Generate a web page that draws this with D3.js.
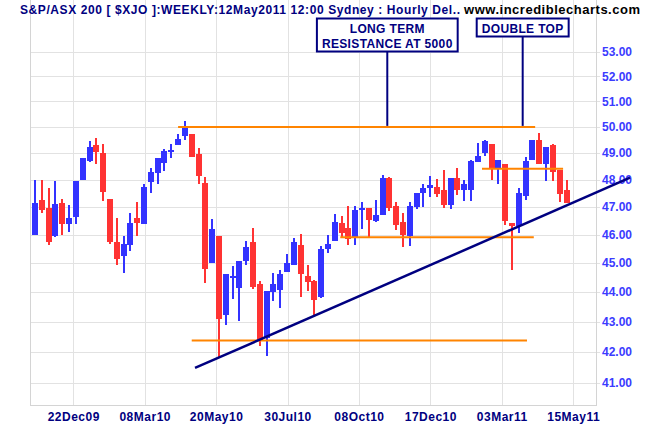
<!DOCTYPE html>
<html>
<head>
<meta charset="utf-8">
<script src="https://cdn.jsdelivr.net/npm/d3@7"></script>
<style>
body { margin: 0; background: #fff; }
svg { display: block; }
text { font-family: "Liberation Sans", Arial, sans-serif; }
</style>
</head>
<body>
<div id="chart"></div>
<script>
// weekly S&P/ASX 200 candles, in index points / 100
var opens  = [46.00,47.23,46.94,45.94,47.12,46.36,46.63,48.00,48.69,49.29,49.00,47.30,45.75,45.23,45.62,46.61,46.37,47.90,48.23,48.63,
              49.05,49.30,49.63,49.73,48.96,47.89,44.98,45.93,43.22,44.47,44.13,45.05,45.73,44.26,42.46,44.00,44.08,44.67,44.94,45.64,
              44.53,44.36,43.81,45.47,45.76,46.40,46.25,45.91,46.87,46.94,46.47,46.70,48.05,47.01,46.43,45.96,46.98,47.52,47.67,47.73,
              47.62,47.06,48.07,47.61,47.61,48.67,49.00,49.33,48.44,48.58,46.40,46.29,47.38,48.73,49.51,48.58,49.29,48.35,47.60];
var highs  = [48.00,48.00,47.67,47.96,47.27,47.05,47.96,48.81,49.44,49.59,49.33,47.30,46.58,45.96,46.76,47.17,47.82,48.42,48.81,49.15,
              49.33,49.73,50.24,49.73,49.20,48.08,46.55,45.93,44.63,44.90,45.08,45.76,46.24,44.36,44.02,44.66,44.74,45.32,45.86,46.01,
              44.93,44.40,45.60,46.00,46.72,46.65,47.01,47.01,47.19,46.94,47.26,48.17,48.10,47.17,46.76,47.19,47.52,47.85,48.13,48.01,
              48.35,48.07,48.42,48.00,48.73,49.37,49.48,49.33,48.73,48.58,46.40,47.67,48.85,49.48,49.77,49.22,49.33,48.35,48.00];
var lows   = [45.98,46.76,45.64,45.92,45.98,46.08,46.36,48.00,48.65,48.58,47.21,45.68,44.91,44.66,45.40,45.94,46.37,47.49,47.85,48.31,
              48.81,49.30,49.49,48.83,47.83,44.30,44.98,41.81,42.89,43.75,43.02,44.91,44.11,42.19,41.86,43.70,43.45,44.67,44.94,43.83,
              44.03,43.18,43.80,45.33,45.76,45.87,45.62,45.62,46.18,45.87,46.43,46.70,46.84,46.16,45.54,45.59,46.93,46.98,47.37,47.37,
              46.94,46.92,47.43,47.21,47.21,48.67,48.88,48.00,47.82,46.33,44.76,46.07,47.23,48.73,48.58,47.93,47.96,47.16,47.12];
var closes = [47.12,46.87,45.73,47.09,46.36,46.58,47.96,48.81,49.22,49.05,47.54,45.73,45.15,45.68,46.40,46.40,47.74,48.27,48.81,49.07,
              49.12,49.55,49.94,48.86,48.13,44.79,46.18,43.09,44.63,44.53,45.08,45.57,44.16,42.38,44.02,44.26,44.63,44.98,45.73,44.62,
              44.34,43.73,45.47,45.65,46.43,46.05,45.84,46.87,46.94,46.52,46.69,48.05,46.95,46.33,46.00,47.01,47.52,47.70,47.80,47.48,
              47.08,48.07,47.60,47.82,48.69,48.88,49.44,48.42,48.73,46.47,46.30,47.49,48.69,49.48,48.58,49.22,48.27,47.45,47.12];

var dateLabels = ["22Dec09","08Mar10","20May10","30Jul10","08Oct10","17Dec10","03Mar11","15May11"];
var dateTickAt = [5.62, 16.10, 26.58, 37.06, 47.54, 58.02, 68.50, 78.98];   // in bar units
var priceTicks = [41,42,43,44,45,46,47,48,49,50,51,52,53];

// horizontal support / resistance lines drawn on the chart
var levelValue = [50.0, 48.4, 45.9, 42.37];
var levelFrom  = [21.0, 65.6, 44.8, 23.0];
var levelTo    = [73.4, 77.5, 73.2, 72.2];

// rising trend line
var trendAt  = [23.48, 87.32];
var trendVal = [41.48, 48.07];

var notes = [
    {lines: ["LONG TERM", "RESISTANCE AT 5000"], at: 51.7, value: 50.0},
    {lines: ["DOUBLE TOP"], at: 71.57, value: 50.0}
];

var width = 650, height = 430;
var plot = {left: 30, right: 596, top: 0, bottom: 405};

var svg = d3.select("#chart").append("svg")
    .attr("width", width)
    .attr("height", height);

var x = d3.scaleLinear().domain([0, opens.length - 1]).range([35, 566.5]);
var y = d3.scaleLog().domain([41, 53]).range([383, 51.7]);

// gridlines + tick labels
svg.append("g")
    .attr("transform", "translate(0," + plot.bottom + ")")
    .call(d3.axisBottom(x).tickValues(dateTickAt)
        .tickFormat(function(d, i) { return dateLabels[i]; })
        .tickSize(-(plot.bottom - plot.top)).tickPadding(7))
    .call(function(g) {
        g.select(".domain").remove();
        g.selectAll("line").attr("stroke", "#e2e2e2").attr("shape-rendering", "crispEdges");
        g.selectAll("text").attr("fill", "#000080").attr("font-size", "12px")
            .attr("font-weight", "bold").attr("letter-spacing", "0.5px")
            .attr("font-family", "'Liberation Sans', Arial, sans-serif");
    });

svg.append("g")
    .attr("transform", "translate(" + plot.left + ",0)")
    .call(d3.axisRight(y).tickValues(priceTicks)
        .tickFormat(d3.format(".2f"))
        .tickSize(570).tickPadding(2))
    .call(function(g) {
        g.select(".domain").remove();
        g.selectAll("line").attr("stroke", "#e2e2e2").attr("shape-rendering", "crispEdges");
        g.selectAll("text").attr("fill", "#3b3bff").attr("font-size", "12px")
            .attr("font-weight", "bold").attr("font-family", "'Liberation Sans', Arial, sans-serif");
    });

// frame
svg.append("path")
    .attr("d", "M" + plot.left + "," + plot.top + "V" + plot.bottom + "H" + plot.right + "V" + plot.top)
    .attr("fill", "none")
    .attr("stroke", "#d4d4d4")
    .attr("shape-rendering", "crispEdges");

// candles
var candles = svg.append("g").attr("shape-rendering", "crispEdges");
var idx = d3.range(opens.length);
var col = function(i) { return closes[i] >= opens[i] ? "#3333ff" : "#ff3333"; };

candles.selectAll(".wick")
    .data(idx)
    .enter()
    .append("rect")
    .attr("x", function(i) { return Math.round(x(i)) - 1; })
    .attr("y", function(i) { return y(highs[i]); })
    .attr("width", 2)
    .attr("height", function(i) { return Math.max(1, y(lows[i]) - y(highs[i])); })
    .attr("fill", col);

candles.selectAll(".body")
    .data(idx)
    .enter()
    .append("rect")
    .attr("x", function(i) { return Math.round(x(i)) - 3; })
    .attr("y", function(i) { return y(Math.max(opens[i], closes[i])); })
    .attr("width", 6)
    .attr("height", function(i) { return Math.max(2, Math.abs(y(opens[i]) - y(closes[i]))); })
    .attr("fill", col);

// orange levels
svg.append("g").selectAll("line")
    .data(levelValue)
    .enter()
    .append("line")
    .attr("x1", function(d, i) { return x(levelFrom[i]); })
    .attr("x2", function(d, i) { return x(levelTo[i]); })
    .attr("y1", function(d) { return y(d); })
    .attr("y2", function(d) { return y(d); })
    .attr("stroke", "#ff8400")
    .attr("stroke-width", 2);

// trend line
svg.append("line")
    .attr("x1", x(trendAt[0])).attr("y1", y(trendVal[0]))
    .attr("x2", x(trendAt[1])).attr("y2", y(trendVal[1]))
    .attr("stroke", "#000080")
    .attr("stroke-width", 2.5);

// annotations
notes.forEach(function(n) {
    var cx = x(n.at), top = 18.5, lh = 15;
    var boxH = n.lines.length * lh + 3;
    var g = svg.append("g");
    var rect = g.append("rect");
    var maxW = 0;
    n.lines.forEach(function(s, k) {
        var t = g.append("text")
            .attr("x", cx)
            .attr("y", top + 14 + k * lh)
            .attr("text-anchor", "middle")
            .attr("font-size", "12px")
            .attr("font-weight", "bold")
            .attr("letter-spacing", "0.35px")
            .attr("fill", "#000080")
            .text(s);
        maxW = Math.max(maxW, t.node().getComputedTextLength());
    });
    rect.attr("x", cx - maxW / 2 - 5)
        .attr("y", top)
        .attr("width", maxW + 10)
        .attr("height", boxH)
        .attr("fill", "#fff")
        .attr("stroke", "#000080")
        .attr("stroke-width", 2);
    g.append("line")
        .attr("x1", cx).attr("x2", cx)
        .attr("y1", top + boxH).attr("y2", y(n.value) - 1)
        .attr("stroke", "#000080")
        .attr("stroke-width", 2);
});

// header
svg.append("text")
    .attr("x", 20).attr("y", 14)
    .attr("font-size", "12px").attr("font-weight", "bold")
    .attr("textLength", 440).attr("lengthAdjust", "spacing")
    .attr("fill", "#000080")
    .text("S&P/ASX 200 [ $XJO ]:WEEKLY:12May2011 12:00 Sydney : Hourly Del..");

svg.append("text")
    .attr("x", 464).attr("y", 14)
    .attr("font-size", "13px").attr("font-weight", "bold")
    .attr("textLength", 176).attr("lengthAdjust", "spacing")
    .attr("fill", "#000")
    .text("www.incrediblecharts.com");
</script>
</body>
</html>
